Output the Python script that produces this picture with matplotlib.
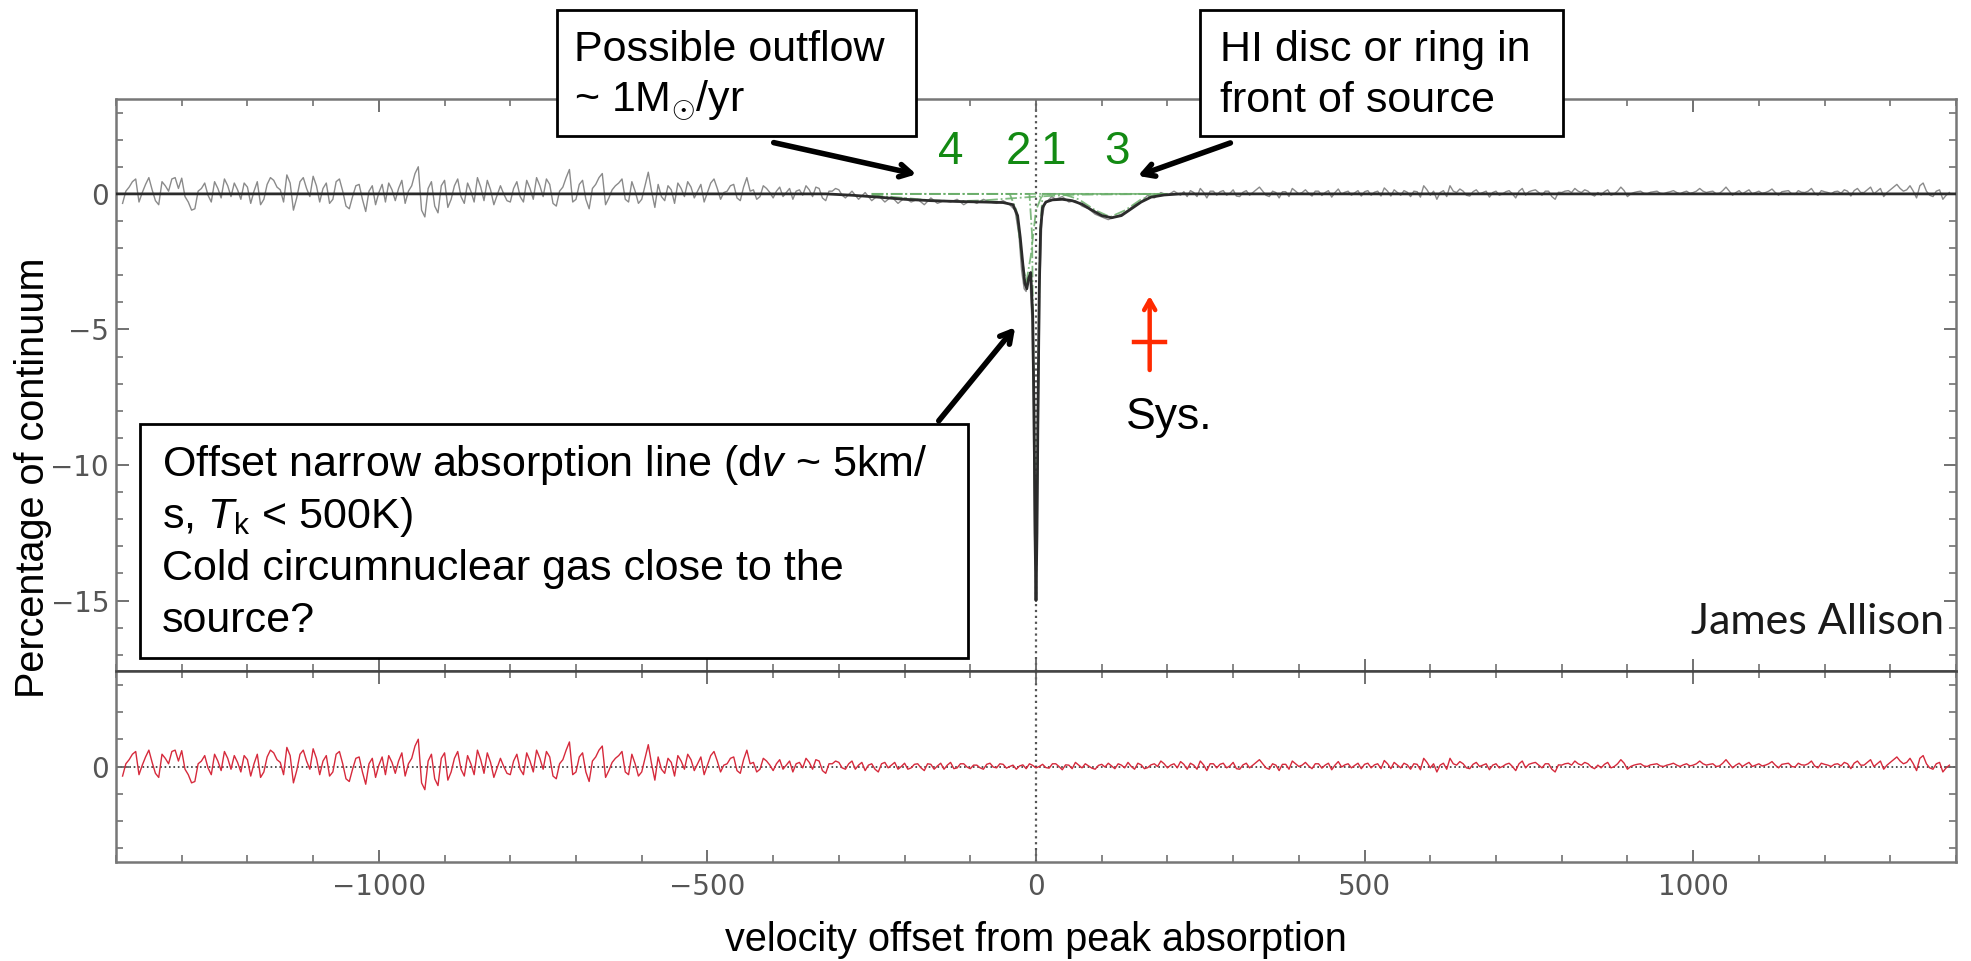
import numpy as np
import matplotlib
matplotlib.use('Agg')
import matplotlib.pyplot as plt
from matplotlib.patches import Rectangle
from matplotlib.ticker import MultipleLocator

W, H = 1971, 961

plt.rcParams['mathtext.fontset'] = 'custom'
plt.rcParams['mathtext.rm'] = 'Liberation Sans'
plt.rcParams['mathtext.it'] = 'Liberation Sans:italic'

#### channels and residual spectrum (per cent of continuum) ####
# even channels
vel_a = np.arange(-1390, 1391, 10)
resid_a = [
    -0.35, 0.25, 0.55, 0.05, 0.6, -0.25, 0.45, 0.1, 0.6, 0.58,      # -1390
    -0.3, -0.55, 0.2, -0.05, 0.45, -0.15, 0.3, 0.4, -0.2, 0.25,     # -1290
    0.1, -0.4, 0.35, 0.5, 0.15, 0.7, -0.6, 0.45, 0.2, 0.65,         # -1190
    -0.3, 0.4, -0.2, 0.55, -0.45, -0.1, 0.35, -0.65, 0.3, 0.05,     # -1090
    -0.3, 0.15, 0.2, -0.35, 0.3, 1.0, -0.85, 0.45, -0.7, 0.5,       # -990
    -0.2, 0.55, -0.35, 0.1, 0.6, -0.25, 0.15, -0.05, 0.0, -0.3,     # -890
    0.45, -0.3, 0.2, 0.6, -0.1, 0.35, -0.45, 0.25, 0.9, -0.2,       # -790
    0.5, -0.55, 0.35, 0.75, -0.15, 0.3, 0.55, -0.3, 0.1, -0.2,      # -690
    0.8, -0.5, -0.1, 0.3, -0.35, 0.2, 0.45, -0.15, 0.35, 0.05,      # -590
    0.55, -0.2, 0.1, 0.35, -0.25, 0.6, 0.15, -0.1, 0.2, -0.15,      # -490
    0.25, 0.05, -0.2, 0.15, 0.3, -0.1, 0.2, -0.25, 0.1, 0.15,       # -390
    -0.1, 0.2, 0.05, -0.15, 0.1, -0.2, 0.15, 0.05, -0.1, 0.12,      # -290
    -0.05, 0.1, -0.15, 0.08, 0.02, -0.1, 0.15, -0.05, 0.1, -0.08,   # -190
    0.05, -0.1, 0.12, -0.05, 0.08, 0.0, -0.1, 0.06, 0.1, -0.05,     # -90
    0.08, -0.06, 0.1, -0.12, 0.05, 0.15, -0.05, 0.02, -0.1, 0.08,   # 10
    0.12, -0.08, 0.05, 0.15, -0.1, 0.06, -0.04, 0.1, 0.2, -0.05,    # 110
    0.1, 0.18, -0.1, 0.05, 0.2, -0.15, 0.1, 0.08, -0.05, 0.15,      # 210
    -0.1, 0.12, 0.05, 0.25, -0.05, 0.1, -0.15, 0.08, 0.2, 0.0,      # 310
    0.15, -0.08, 0.1, 0.05, -0.12, 0.18, 0.06, -0.05, 0.12, 0.08,   # 410
    -0.05, 0.1, 0.22, -0.08, 0.05, 0.12, -0.1, 0.08, 0.3, -0.05,    # 510
    -0.2, 0.12, 0.3, 0.05, 0.1, -0.08, 0.15, 0.05, -0.12, 0.1,      # 610
    0.0, 0.12, -0.15, 0.2, 0.08, 0.15, -0.05, 0.1, -0.2, 0.05,      # 710
    0.12, 0.2, 0.05, 0.1, -0.08, -0.05, 0.15, 0.0, 0.25, -0.1,      # 810
    0.05, 0.1, 0.0, 0.08, 0.02, 0.05, 0.12, 0.0, 0.1, 0.05,         # 910
    0.2, 0.05, 0.1, 0.02, 0.25, -0.05, 0.12, 0.08, 0.0, 0.1,        # 1010
    0.05, 0.18, -0.05, 0.1, 0.0, 0.12, 0.05, 0.2, -0.05, 0.08,      # 1110
    0.0, 0.1, 0.15, -0.08, 0.2, 0.05, 0.25, 0.1, -0.1, 0.15,        # 1210
    0.35, 0.1, 0.3, -0.15, 0.4, -0.05, 0.1, -0.2, 0.05,             # 1310
]
# odd channels
vel_b = np.arange(-1385, 1386, 10)
resid_b = [
    0.1, 0.45, -0.3, 0.35, 0.15, -0.4, 0.3, 0.55, 0.2, -0.1,        # -1385
    -0.6, 0.1, 0.4, -0.3, 0.2, 0.55, -0.1, 0.15, 0.4, -0.35,        # -1285
    0.45, -0.2, 0.6, 0.25, -0.3, 0.4, -0.15, 0.6, -0.1, 0.3,        # -1185
    0.2, -0.35, 0.45, 0.1, -0.55, 0.3, -0.2, 0.1, -0.4, 0.35,       # -1085
    0.4, -0.25, 0.5, 0.1, 0.75, -0.6, 0.2, -0.45, 0.3, -0.5,        # -985
    0.3, -0.1, 0.4, -0.3, 0.25, 0.5, -0.4, 0.3, -0.25, 0.2,         # -885
    -0.1, 0.5, -0.2, 0.3, 0.55, -0.35, 0.1, 0.6, -0.3, 0.35,        # -785
    -0.2, 0.2, 0.6, -0.4, 0.15, 0.4, -0.2, 0.45, -0.35, 0.3,        # -685
    0.1, 0.35, -0.25, 0.15, 0.4, -0.1, 0.25, 0.1, -0.3, 0.4,        # -585
    0.2, 0.05, 0.3, -0.15, 0.25, 0.1, -0.2, 0.3, 0.05, 0.1,         # -485
    -0.1, 0.2, 0.1, -0.05, 0.15, 0.25, -0.15, 0.1, 0.2, -0.05,      # -385
    0.1, -0.1, 0.15, 0.05, -0.1, 0.1, -0.05, 0.15, 0.0, -0.1,       # -285
    0.08, -0.05, 0.1, -0.1, 0.12, 0.05, -0.08, 0.1, -0.02, 0.05,    # -185
    -0.05, 0.08, -0.02, 0.1, -0.06, 0.05, 0.02, -0.08, 0.04, 0.0,   # -85
    -0.04, 0.1, 0.0, 0.06, -0.08, 0.05, 0.1, -0.06, 0.04, -0.02,    # 15
    0.02, 0.1, -0.05, 0.0, 0.12, -0.08, 0.06, 0.0, 0.1, 0.05,       # 115
    -0.05, 0.08, 0.12, -0.1, 0.06, 0.1, -0.05, 0.12, 0.02, -0.08,   # 215
    0.06, -0.05, 0.15, 0.1, -0.1, 0.05, 0.08, -0.1, 0.1, 0.05,      # 315
    0.02, 0.1, -0.06, 0.12, 0.05, -0.02, 0.1, 0.04, -0.08, 0.12,    # 415
    0.06, -0.08, 0.1, 0.15, -0.05, 0.06, 0.1, -0.12, 0.15, 0.1,     # 515
    0.05, -0.1, 0.1, 0.18, -0.05, 0.08, 0.0, 0.1, 0.05, -0.05,      # 615
    0.08, 0.0, 0.1, -0.05, 0.12, 0.05, 0.1, -0.1, 0.06, 0.1,        # 715
    0.05, 0.1, 0.15, -0.02, 0.05, 0.08, -0.05, 0.1, 0.12, 0.0,      # 815
    0.08, 0.02, 0.06, 0.1, 0.0, 0.08, 0.05, 0.06, 0.02, 0.1,        # 915
    0.1, 0.08, 0.0, 0.12, 0.1, 0.05, 0.0, 0.15, 0.05, 0.02,         # 1015
    0.1, 0.05, 0.08, 0.12, -0.02, 0.06, 0.1, 0.02, 0.12, 0.05,      # 1115
    0.08, 0.02, 0.1, 0.12, 0.05, 0.15, 0.0, 0.2, 0.05, 0.25,        # 1215
    0.2, 0.15, 0.1, 0.3, 0.1, -0.1, 0.15, -0.05,                    # 1315
]

#### data across the absorption ####
win_v = [-290, -280, -270, -260, -250, -240, -230, -220, -210, -200,
         -190, -180, -170, -160, -150, -140, -130, -120, -110, -100,
         -90, -80, -70, -60, -50, -40, -32, -26, -22, -18,
         -15, -12, -9, -6, -4, -2, 0, 2, 4, 6,
         9, 13, 18, 24, 30, 40, 50, 60, 70, 80,
         90, 100, 110, 120, 130, 140, 150, 160, 170, 180,
         190, 200, 210, 220]
win_flux = [-0.15, 0.1, -0.2, 0.05, -0.25, -0.05, -0.3, -0.1, -0.35, -0.15,
            -0.3, -0.2, -0.4, -0.15, -0.35, -0.25, -0.3, -0.2, -0.4, -0.25,
            -0.35, -0.2, -0.3, -0.35, -0.25, -0.4, -0.6, -1.5, -2.8, -3.5,
            -3.6, -3.1, -3.2, -4.8, -8.5, -12.8, -15.0, -12.0, -7.5, -3.2,
            -0.9, -0.4, -0.25, -0.1, -0.2, -0.1, -0.3, -0.25, -0.45, -0.55,
            -0.75, -0.85, -0.95, -0.85, -0.75, -0.6, -0.4, -0.3, -0.05, -0.15,
            0.05, -0.05, 0.1, -0.05]

#### fitted model (black) ####
mod_v = [-1400, -320, -280, -240, -200, -160, -120, -80, -50, -35, -28, -24, -20,
         -17, -14, -11, -8, -5, -3, -1.5, 0, 1.5, 3, 5, 7, 10, 15, 25, 40, 55,
         70, 85, 100, 115, 130, 145, 160, 175, 195, 220, 1400]
mod_y = [0, 0, -0.05, -0.12, -0.2, -0.25, -0.28, -0.3, -0.32, -0.4, -0.8, -1.6, -2.6,
         -3.3, -3.5, -3.1, -2.9, -4.5, -8, -12.5, -15, -12.5, -8, -3.5, -1.3, -0.5, -0.3,
         -0.22, -0.2, -0.25, -0.38, -0.6, -0.8, -0.88, -0.8, -0.55, -0.3, -0.12, -0.04, 0, 0]

#### gaussian components 1-4 (green) ####
comp_v = [
    [-250, -10, -6, -3, 0, 3, 6, 10, 200],
    [-250, -40, -30, -22, -15, -8, 0, 10, 200],
    [-250, 40, 65, 90, 113, 136, 160, 185, 200],
    [-250, -200, -160, -120, -80, -40, 0, 60, 200],
]
comp_y = [
    [0, 0, -1.5, -8, -14.8, -8, -1.5, 0, 0],
    [0, 0, -0.6, -2.3, -3.3, -2.3, -0.6, 0, 0],
    [0, 0, -0.2, -0.6, -0.85, -0.6, -0.2, 0, 0],
    [-0.05, -0.15, -0.24, -0.27, -0.24, -0.17, -0.1, -0.03, 0],
]
comp_lab = ['1', '2', '3', '4']
comp_lab_v = [26, -27, 123, -129]

sys_v = 173

# merge the two channel sets
vel = np.concatenate([vel_a, vel_b])
resid = np.concatenate([resid_a, resid_b])
o = np.argsort(vel)
vel, resid = vel[o], resid[o]

# top panel data = residual outside the line window + measured window
out = (vel < win_v[0]) | (vel > win_v[-1])
v_all = np.concatenate([vel[out], win_v])
f_all = np.concatenate([resid[out], win_flux])
o = np.argsort(v_all)
v_all, f_all = v_all[o], f_all[o]

fig = plt.figure(figsize=(W/100, H/100), dpi=100)
ax1 = fig.add_axes([116/W, 1-671/H, 1840/W, 572/H])
ax2 = fig.add_axes([116/W, 1-862/H, 1840/W, 191/H], sharex=ax1)

for ax in (ax1, ax2):
    for s in ax.spines.values():
        s.set_color('#777777')
        s.set_linewidth(1.8)
    ax.xaxis.set_major_locator(MultipleLocator(500))
    ax.xaxis.set_minor_locator(MultipleLocator(100))
    ax.yaxis.set_major_locator(MultipleLocator(5))
    ax.yaxis.set_minor_locator(MultipleLocator(1))
    ax.tick_params(which='both', direction='in', top=True, right=True,
                   color='#666666', labelcolor='#555555', labelsize=20)
    ax.tick_params(which='major', length=9, width=1.3)
    ax.tick_params(which='minor', length=5, width=1.1)
    ax.tick_params(axis='x', pad=8)
    ax.tick_params(axis='y', pad=5)
    ax.axvline(0, ls=':', color='#555555', lw=1.6, zorder=1)
ax1.spines['bottom'].set_color('#444444')
ax2.spines['top'].set_color('#444444')
plt.setp(ax1.get_xticklabels(), visible=False)

ax1.plot(v_all, f_all, color='#8a8a8a', lw=1.0, zorder=2)
for cv, cy in zip(comp_v, comp_y):
    ax1.plot(cv, cy, color='#6aae6a', ls='-.', lw=1.3, alpha=0.85, zorder=3)
ax1.plot(mod_v, mod_y, color='#2b2b2b', lw=2.0, zorder=4)
ax1.set_xlim(-1400, 1400)
ax1.set_ylim(-17.6, 3.5)

ax2.plot(vel, resid, color='#d62a3c', lw=1.0, zorder=2)
ax2.axhline(0, ls=':', color='#333333', lw=1.2, zorder=1)
ax2.set_ylim(-3.5, 3.5)

for lab, lv in zip(comp_lab, comp_lab_v):
    ax1.text(lv, 1.55, lab, color='#138a13', fontsize=33, family='Liberation Sans',
             ha='center', va='center', zorder=6)

# systemic velocity marker
ax1.annotate('', xy=(sys_v, -3.66), xytext=(sys_v, -6.6),
             arrowprops=dict(arrowstyle='->,head_length=0.7,head_width=0.4',
                             color='#ff2a00', lw=3.2), annotation_clip=False)
ax1.plot([sys_v-24, sys_v+24], [-5.47, -5.47], color='#ff2a00', lw=3.2)
fig.text(1169/W, 1-417/H, 'Sys.', fontsize=32, family='Liberation Sans',
         ha='center', va='center')

# text boxes
boxes = [
    ((557, 10, 916, 136), 574, [50, 101], ['Possible outflow', r'~ 1M$_{\odot}$/yr']),
    ((1200, 10, 1563, 136), 1220, [50, 101], ['HI disc or ring in', 'front of source']),
    ((140, 424, 968, 658), 162, [465, 517, 569, 621],
     [r'Offset narrow absorption line (d$v$ ~ 5km/', r's, $T_\mathrm{k}$ < 500K)',
      'Cold circumnuclear gas close to the', 'source?']),
]
for (x0, y0, x1, y1), tx, tys, lines in boxes:
    fig.patches.append(Rectangle((x0/W, 1-y1/H), (x1-x0)/W, (y1-y0)/H,
                                 transform=fig.transFigure, facecolor='white',
                                 edgecolor='black', lw=2, zorder=5))
    for ty, line in zip(tys, lines):
        fig.text(tx/W, 1-ty/H, line, fontsize=31, family='Liberation Sans',
                 ha='left', va='center', zorder=6)

arrow = dict(arrowstyle='->,head_length=0.8,head_width=0.45', color='black', lw=4)
ax1.annotate('', xy=(-178, 0.7), xytext=(771/W, 1-142/H), textcoords='figure fraction',
             arrowprops=arrow, annotation_clip=False, zorder=7)
ax1.annotate('', xy=(151, 0.63), xytext=(1233/W, 1-142/H), textcoords='figure fraction',
             arrowprops=arrow, annotation_clip=False, zorder=7)
ax1.annotate('', xy=(-29, -4.84), xytext=(937/W, 1-423/H), textcoords='figure fraction',
             arrowprops=arrow, annotation_clip=False, zorder=7)

fig.text(1944/W, 1-622/H, 'James Allison', fontsize=31, family='Lato',
         color='#1a1a1a', ha='right', va='center')

fig.text(1036/W, 1-940/H, 'velocity offset from peak absorption', fontsize=28.5,
         family='Liberation Sans', ha='center', va='center')
fig.text(33/W, 1-478/H, 'Percentage of continuum', fontsize=28.5, family='Liberation Sans',
         rotation=90, ha='center', va='center')

fig.savefig('out.png', dpi=100)
